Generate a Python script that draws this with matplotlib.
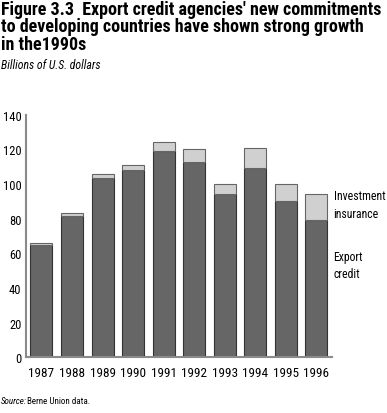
import matplotlib
matplotlib.use('Agg')
import matplotlib.pyplot as plt
import numpy as np

years = ['1987', '1988', '1989', '1990', '1991', '1992', '1993', '1994', '1995', '1996']
export_credit = [65, 81.5, 103.5, 108, 119, 113, 94, 109, 90, 79]
investment_insurance = [1, 2, 2.5, 3, 5, 7, 6, 12, 10, 15]

plt.rcParams['font.family'] = ['Roboto Condensed', 'DejaVu Sans']

dark = '#666666'
light = '#d0d0d0'
axis_col = '#8a8a8a'

fig = plt.figure(figsize=(3.87, 4.14), dpi=100)
ax = fig.add_axes([0.066, 0.1345, 0.792, 0.586])

x = np.arange(len(years))
ax.bar(x, export_credit, width=0.72, color=dark, edgecolor='#333333', linewidth=0.8)
ax.bar(x, investment_insurance, width=0.72, bottom=export_credit, color=light,
       edgecolor='#666666', linewidth=0.8)

ax.set_xlim(-0.52, 9.51)
ax.set_ylim(0, 140)
ax.set_yticks(range(0, 141, 20))
ax.set_xticks(x)
ax.set_xticklabels(years)
ax.tick_params(length=0, labelsize=9.5, colors='black')
ax.tick_params(axis='y', pad=3, labelsize=9)
ax.tick_params(axis='x', pad=6)
for s in ['top', 'right']:
    ax.spines[s].set_visible(False)
for s in ['left', 'bottom']:
    ax.spines[s].set_color(axis_col)
    ax.spines[s].set_linewidth(1.5)

# title, three lines
title = ["Figure 3.3  Export credit agencies' new commitments",
         "to developing countries have shown strong growth",
         "in the1990s"]
for i, line in enumerate(title):
    fig.text(0.003, 1 - (15 + 17.5 * i) / 414, line, ha='left', va='baseline',
             fontsize=13, fontweight='bold')

fig.text(0.003, 1 - 69 / 414, 'Billions of U.S. dollars', ha='left', va='baseline',
         fontsize=8.5, style='italic')

fig.text(0.862, 1 - 200 / 414, 'Investment', ha='left', va='baseline', fontsize=8.5)
fig.text(0.862, 1 - 218 / 414, 'insurance', ha='left', va='baseline', fontsize=8.5)
fig.text(0.862, 1 - 261 / 414, 'Export', ha='left', va='baseline', fontsize=8.5)
fig.text(0.862, 1 - 278 / 414, 'credit', ha='left', va='baseline', fontsize=8.5)

fig.text(0.003, 1 - 404 / 414, 'Source:', ha='left', va='baseline', fontsize=6.5,
         style='italic')
fig.text(0.07, 1 - 404 / 414, 'Berne Union data.', ha='left', va='baseline', fontsize=6.5)

fig.savefig('out.png', dpi=100)
